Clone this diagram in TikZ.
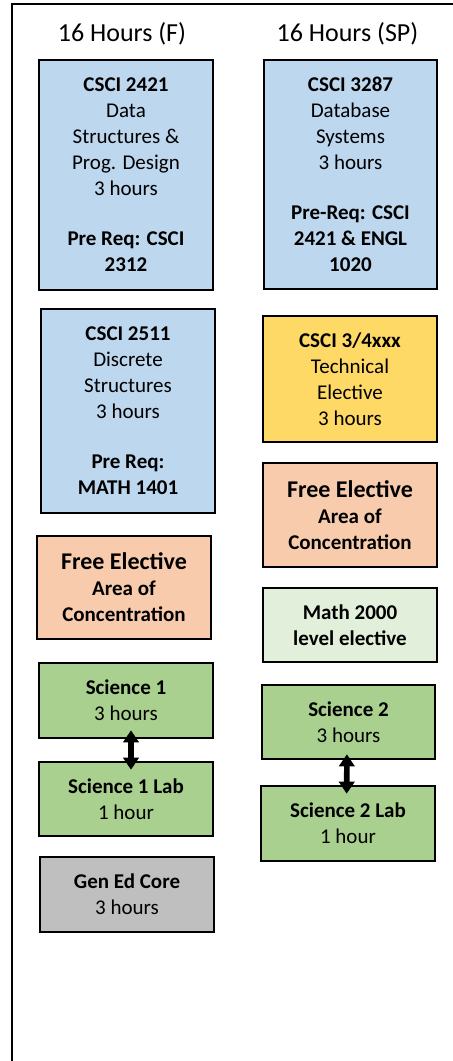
\documentclass[tikz,border=0pt]{standalone}
\usepackage{fontspec}
\setmainfont{Carlito}
\usetikzlibrary{arrows.meta}
\definecolor{cblue}{HTML}{BDD7EE}
\definecolor{cyellow}{HTML}{FFD966}
\definecolor{cpeach}{HTML}{F8CBAD}
\definecolor{clgreen}{HTML}{E2EFDA}
\definecolor{cgreen}{HTML}{A9D08E}
\definecolor{cgrey}{HTML}{BFBFBF}
\tikzset{
  course/.style={draw=black, line width=2pt, rectangle, align=center, inner sep=0pt,
    font=\fontsize{15.75}{19.5}\selectfont, minimum width=130.5pt},
  header/.style={font=\fontsize{19.5}{23}\selectfont, inner sep=0pt},
  frameline/.style={line width=2pt, black},
  coreq/.style={line width=4.2pt, {Triangle[width=11.5pt,length=9pt]}-{Triangle[width=11.5pt,length=9pt]}},
}
\newcommand{\bigfe}{{\fontsize{18}{19.5}\selectfont Free Elective}}
\begin{document}
\begin{tikzpicture}[x=0.75pt, y=-0.75pt]
\useasboundingbox (0,0) rectangle (453,1061);
\fill[white] (0,0) rectangle (453,1061);
\coordinate (fr1) at (453,4);
\coordinate (fr2) at (12,4);
\coordinate (fr3) at (12,1061);
\draw[frameline] (fr1) -- (fr2) -- (fr3);

\node[header] (hf) at (122,34) {16 Hours (F)};
\node[header] (hsp) at (347.5,34) {16 Hours (SP)};

% Fall column
\node[course, fill=cblue, minimum height=172.5pt] (a) at (126,175)
  {\textbf{CSCI 2421}\\ Data\\ Structures \&\\ Prog. Design\\ 3 hours\\[18pt] \textbf{Pre Req: CSCI}\\ \textbf{2312}};
\node[course, fill=cblue, minimum height=153pt] (c) at (128,411)
  {\textbf{CSCI 2511}\\ Discrete\\ Structures\\ 3 hours\\[18pt] \textbf{Pre Req:}\\ \textbf{MATH 1401}};
\node[course, fill=cpeach, minimum height=77.25pt, font=\bfseries\fontsize{15.75}{19.5}\selectfont] (f) at (124,587.5)
  {\bigfe\\ Area of\\ Concentration};
\node[course, fill=cgreen, minimum height=56.25pt] (h) at (126,700.5)
  {\textbf{Science 1}\\ 3 hours};
\node[course, fill=cgreen, minimum height=55.5pt] (i) at (126,799)
  {\textbf{Science 1 Lab}\\ 1 hour};
\node[course, fill=cgrey, minimum height=56.25pt] (j) at (127,894.5)
  {\textbf{Gen Ed Core}\\ 3 hours};

% Spring column
\node[course, fill=cblue, minimum height=171.75pt, minimum width=129.75pt] (b) at (350.5,174.5)
  {\textbf{CSCI 3287}\\ Database\\ Systems\\ 3 hours\\[18pt] \textbf{Pre-Req: CSCI}\\ \textbf{2421 \& ENGL}\\ \textbf{1020}};
\node[course, fill=cyellow, minimum height=94.5pt] (d) at (350,379)
  {\textbf{CSCI 3/4xxx}\\ Technical\\ Elective\\ 3 hours};
\node[course, fill=cpeach, minimum height=78pt, font=\bfseries\fontsize{15.75}{19.5}\selectfont] (e) at (350,515)
  {\bigfe\\ Area of\\ Concentration};
\node[course, fill=clgreen, minimum height=55.5pt, font=\bfseries\fontsize{15.75}{19.5}\selectfont] (g) at (350,625)
  {Math 2000\\ level elective};
\node[course, fill=cgreen, minimum height=55.5pt, minimum width=129.75pt] (k) at (348.5,722)
  {\textbf{Science 2}\\ 3 hours};
\node[course, fill=cgreen, minimum height=56.25pt] (l) at (348,823.5)
  {\textbf{Science 2 Lab}\\ 1 hour};

% co-requisite arrows
\draw[coreq] ([xshift=3.75pt, yshift=6.75pt]h.south) -- ([xshift=3.75pt, yshift=-6.75pt]i.north);
\draw[coreq] ([xshift=-1.2pt, yshift=4.5pt]k.south) -- ([xshift=-1pt, yshift=-6.75pt]l.north);
\end{tikzpicture}
\end{document}
